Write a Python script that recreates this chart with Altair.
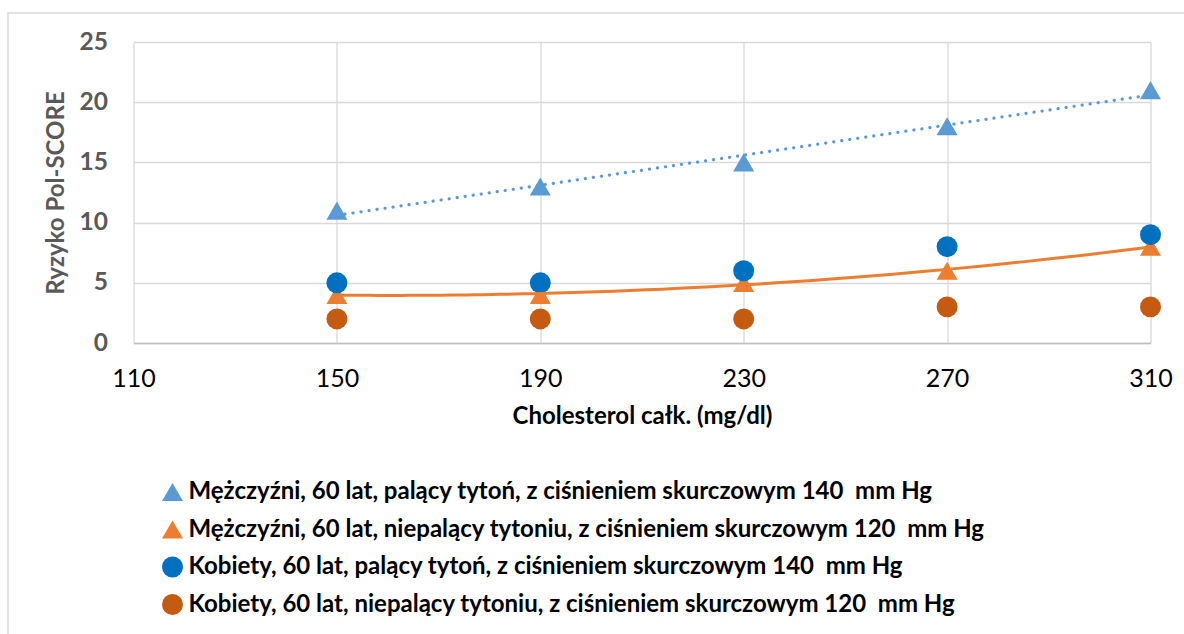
import altair as alt
import pandas as pd

cholesterol = [150, 190, 230, 270, 310]
series_names = [
    "Mężczyźni, 60 lat, palący tytoń, z ciśnieniem skurczowym 140\u00a0 mm Hg",
    "Mężczyźni, 60 lat, niepalący tytoniu, z ciśnieniem skurczowym 120\u00a0 mm Hg",
    "Kobiety, 60 lat, palący tytoń, z ciśnieniem skurczowym 140\u00a0 mm Hg",
    "Kobiety, 60 lat, niepalący tytoniu, z ciśnieniem skurczowym 120\u00a0 mm Hg",
]
men_smoking = [11, 13, 15, 18, 21]
men_nonsmoking = [4, 4, 5, 6, 8]
women_smoking = [5, 5, 6, 8, 9]
women_nonsmoking = [2, 2, 2, 3, 3]
x_ticks = [110, 150, 190, 230, 270, 310]
y_ticks = [0, 5, 10, 15, 20, 25]

colors = ["#5B9BD5", "#ED7D31", "#0070C0", "#C55A11"]
shapes = ["triangle-up", "triangle-up", "circle", "circle"]
marker_sizes = [440, 440, 361, 361]

rows = []
for name, vals in zip(series_names, [men_smoking, men_nonsmoking, women_smoking, women_nonsmoking]):
    for x, v in zip(cholesterol, vals):
        rows.append({"series": name, "chol": x, "risk": v})
df = pd.DataFrame(rows)

FONT = "Lato"
W, H = 1017, 301

xscale = alt.Scale(domain=[110, 310], nice=False, zero=False)
yscale = alt.Scale(domain=[0, 25], nice=False)

base = alt.Chart(df)

points = base.mark_point(filled=True, opacity=1, strokeWidth=0).encode(
    x=alt.X("chol:Q", scale=xscale,
            axis=alt.Axis(values=x_ticks, title="Cholesterol całk. (mg/dl)", grid=True,
                          gridColor="#D9D9D9", gridWidth=1.3, domain=True, domainColor="#BFBFBF",
                          domainWidth=1.3, ticks=False, labelPadding=23, labelFontSize=25,
                          labelFlush=False,
                          labelColor="#000000", labelFont=FONT, titleFont=FONT,
                          titleFontSize=24, titleFontWeight="bold", titleColor="#000000",
                          titlePadding=13)),
    y=alt.Y("risk:Q", scale=yscale,
            axis=alt.Axis(values=y_ticks, title="Ryzyko Pol-SCORE", grid=True,
                          gridColor="#D9D9D9", gridWidth=1.3, domain=False, ticks=False,
                          labelPadding=26, labelFontSize=24.5, labelFontWeight="bold",
                          labelFlush=False,
                          labelColor="#595959", labelFont=FONT, titleFont=FONT,
                          titleFontSize=24, titleFontWeight="bold", titleColor="#595959",
                          titlePadding=11)),
    color=alt.Color("series:N", scale=alt.Scale(domain=series_names, range=colors),
                    sort=series_names,
                    legend=alt.Legend(orient="none", legendX=27, legendY=438, direction="vertical",
                                      title=None, labelFont=FONT, labelFontSize=24,
                                      labelFontWeight="bold", labelColor="#000000",
                                      symbolSize=250, symbolStrokeWidth=0, labelOffset=4,
                                      rowPadding=13.5, padding=0, labelLimit=1000)),
    shape=alt.Shape("series:N", scale=alt.Scale(domain=series_names, range=shapes),
                    sort=series_names),
    size=alt.Size("series:N", scale=alt.Scale(domain=series_names, range=marker_sizes),
                  legend=None),
)

trend_lin = base.transform_filter(
    alt.datum.series == series_names[0]
).transform_regression("chol", "risk", method="linear").mark_line(
    color="#5B9BD5", strokeWidth=3.2, strokeDash=[0.1, 8], strokeCap="round"
).encode(x=alt.X("chol:Q", scale=xscale), y=alt.Y("risk:Q", scale=yscale))

trend_poly = base.transform_filter(
    alt.datum.series == series_names[1]
).transform_regression("chol", "risk", method="poly", order=2).mark_line(
    color="#ED7D31", strokeWidth=3
).encode(x=alt.X("chol:Q", scale=xscale), y=alt.Y("risk:Q", scale=yscale))

frame = alt.Chart(alt.Data(values=[{"a": 1}])).mark_rect(
    fill=None, stroke="#D9D9D9", strokeWidth=1.5, clip=False
).encode(x=alt.value(-125.5), x2=alt.value(1070), y=alt.value(-29), y2=alt.value(620))

chart = alt.layer(frame, points, trend_lin, trend_poly).properties(
    width=W, height=H,
    autosize=alt.AutoSizeParams(type="none"),
    padding={"left": 133.5, "top": 42, "right": 33.5, "bottom": 291},
    background="white",
).configure_view(stroke=None)

chart.save("out.html", embed_options={"renderer": "svg", "actions": False})
